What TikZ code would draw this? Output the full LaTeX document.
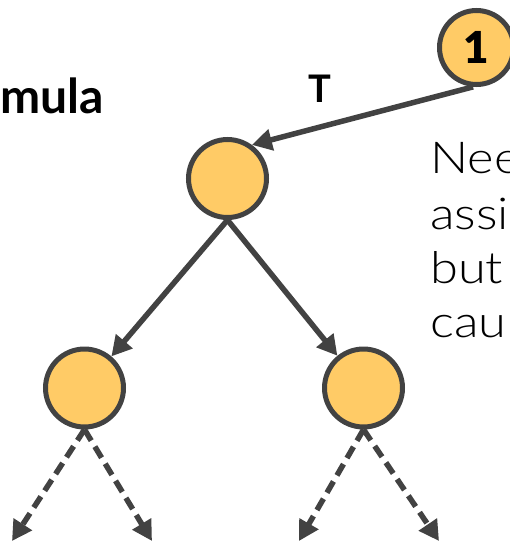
\documentclass[tikz,border=0pt]{standalone}
\usepackage{fontspec}
\setmainfont{Lato}
\newfontfamily\lightfont[FakeStretch=1.15]{Lato Light}
\newfontfamily\heavyfont{Lato Black}
\usetikzlibrary{arrows.meta}
\definecolor{nodefill}{HTML}{FFCB66}
\definecolor{ink}{HTML}{424242}
\tikzset{
  treenode/.style={circle, draw=ink, fill=nodefill, line width=5pt, minimum size=78pt, inner sep=0pt},
  numnode/.style={treenode, minimum size=74pt, font=\heavyfont\fontsize{44}{44}\selectfont},
  solidedge/.style={draw=ink, line width=5.5pt, -{Triangle[length=20pt,width=21pt]}},
  dashededge/.style={draw=ink, line width=5.5pt, dash pattern=on 13pt off 7pt, -{Triangle[length=20pt,width=21pt]}},
  bodytext/.style={anchor=base west, inner sep=0pt, text=black, font=\lightfont\fontsize{44}{44}\selectfont},
}
\begin{document}
\begin{tikzpicture}[x=1pt,y=-1pt]
  \useasboundingbox (0,0) rectangle (510,543);
  \clip (0,0) rectangle (510,543);

  % heading fragment and explanation text
  \node[anchor=base east, inner sep=0pt, font=\bfseries\fontsize{48}{48}\selectfont] (head) at (104,113) {mula};
  \node[bodytext] (l1) at (430,173) {Nee};
  \node[bodytext] (l2) at (430,229) {assi};
  \node[bodytext] (l3) at (430,283) {but};
  \node[bodytext] (l4) at (430,337) {cau};

  % tree nodes
  \node[numnode] (n1) at (476.5,47.5) {1};
  \node[treenode] (a) at (227.5,178.5) {};
  \node[treenode] (b) at (84.5,388) {};
  \node[treenode] (c) at (363.5,388) {};

  % free ends of the dashed branches
  \coordinate (bl) at (12,541);
  \coordinate (br) at (152,541);
  \coordinate (cl) at (299,541);
  \coordinate (cr) at (439,541);

  % connectors
  \draw[solidedge] (n1.265) -- (a.54);
  \node[font=\bfseries\fontsize{38}{38}\selectfont, inner sep=0pt] (tlabel) at (320,88.5) {T};
  \draw[solidedge] (a.south) -- (b);
  \draw[solidedge] (a.south) -- (c);
  \draw[dashededge] (b.south) -- (bl);
  \draw[dashededge] (b.south) -- (br);
  \draw[dashededge] (c.south) -- (cl);
  \draw[dashededge] (c.south) -- (cr);
\end{tikzpicture}
\end{document}
